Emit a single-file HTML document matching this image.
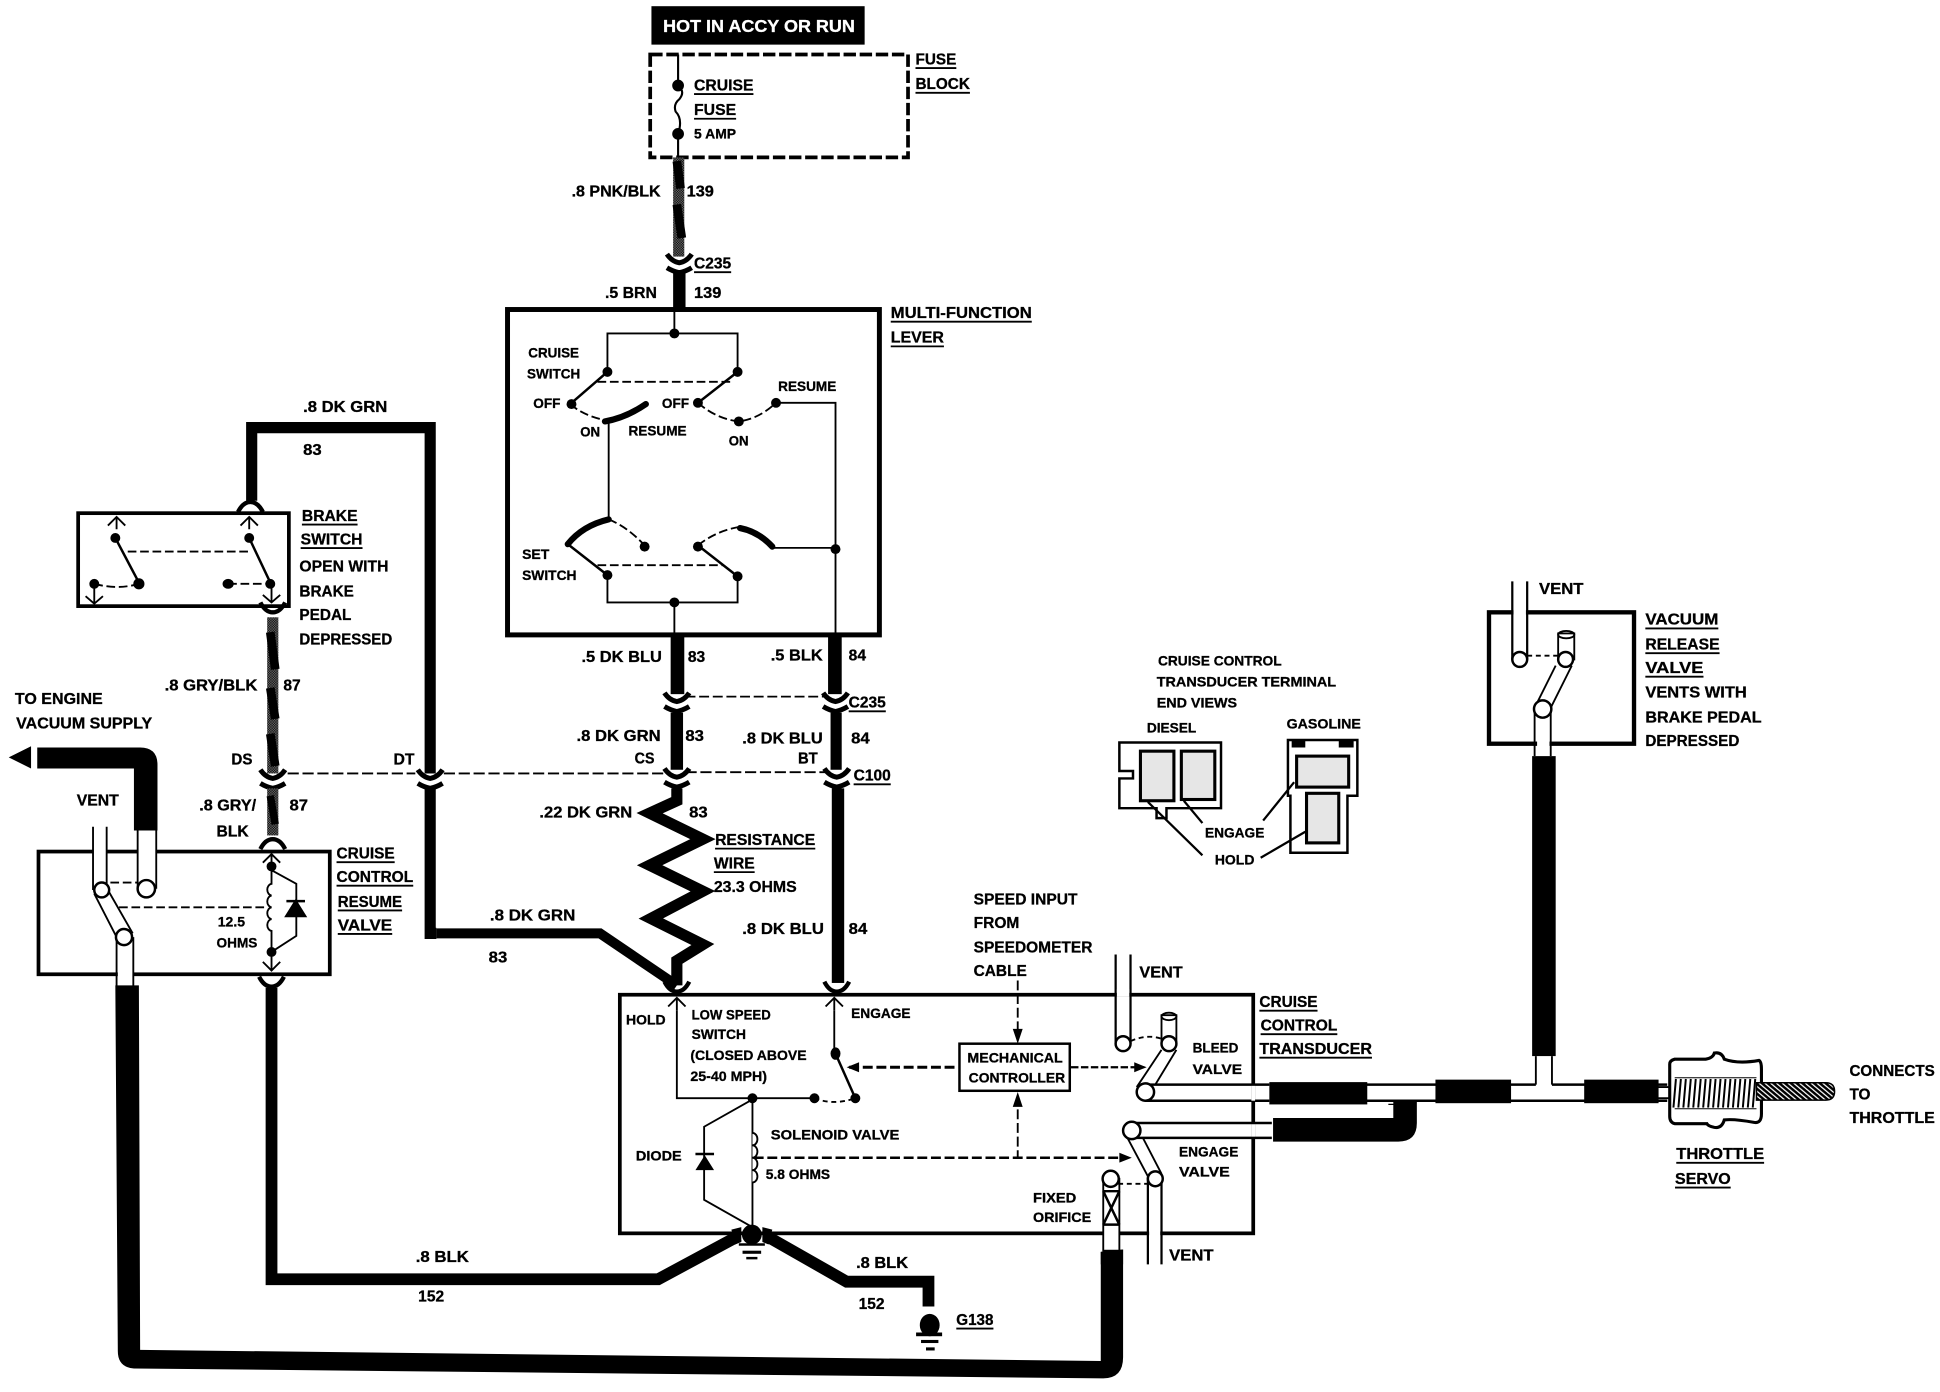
<!DOCTYPE html>
<html><head><meta charset="utf-8"><title>Cruise control wiring diagram</title>
<style>
html,body{margin:0;padding:0;background:#fff}
svg{display:block}
text{font-family:"Liberation Sans",sans-serif;font-weight:bold;font-size:13px;fill:#000;stroke:#000;stroke-width:.25px}
.s{font-size:11.5px}
</style></head><body>
<svg xmlns="http://www.w3.org/2000/svg" width="1940" height="1392" viewBox="0 0 1565 1123" fill="none" stroke="#000" stroke-width="1.5">
<defs>
<pattern id="d" width="2" height="2" patternUnits="userSpaceOnUse"><rect width="2" height="2" fill="#777" stroke="none"/><rect width="1" height="1" fill="#000" stroke="none"/><rect x="1" y="1" width="1" height="1" fill="#000" stroke="none"/></pattern>
<pattern id="h" width="3" height="3" patternUnits="userSpaceOnUse" patternTransform="rotate(40)"><rect width="3" height="3" fill="#fff" stroke="none"/><rect width="3" height="2" fill="#000" stroke="none"/></pattern>
<g id="c"><path stroke-width="4" d="M-10,-7Q-6,-1 0,0Q6,-1 10,-7"/><path stroke-width="4" d="M-10,4Q-5,7 0,8Q5,7 10,4"/></g>
<g id="cu"><path stroke-width="3.500" d="M-10,5Q-6,-3 0,-3Q6,-3 10,5"/></g>
<g id="cd"><path stroke-width="3.500" d="M-10,-5Q-6,3 0,3Q6,3 10,-5"/></g>
<path id="up" d="M-7,7L0,0L7,7M0,0V10"/>
</defs>
<rect width="1565" height="1123" fill="#fff" stroke="none"/>

<!-- top -->
<rect x="525.500" y="5" width="172" height="31" fill="#000" stroke="none"/>
<rect x="524.500" y="44" width="208" height="83" stroke-width="3" stroke-dasharray="10 3"/>
<path d="M547,44V69M547,108V127M547,69q6,5 1,11q-5,4 -3,10q6,6 2,18" stroke-width="1.700"/>
<circle cx="547" cy="69" r="4" fill="#000"/><circle cx="547" cy="108" r="4" fill="#000"/>

<!-- wire 139 -->
<rect x="543" y="127" width="9" height="80" fill="url(#d)" stroke="none"/>
<path d="M546,130L549,152M546,165L550,192" stroke-width="7"/>
<use href="#c" x="548" y="212"/>
<rect x="543" y="219" width="10" height="31" fill="#000" stroke="none"/>

<!-- multi function -->
<rect x="409.400" y="249.700" width="300" height="262.500" stroke-width="4"/>
<path d="M544,250V269M490,300V269H595V300"/>
<path d="M490,300L460,326M595,300L563,325" stroke-width="2"/>
<path d="M482,308H589M460,326Q470,335 488,339M563,325Q578,338 596,340Q612,338 626,325" stroke-dasharray="7 3"/>
<path d="M488,340Q505,337 521,326" stroke-width="5" stroke-linecap="round"/>
<path d="M491,341V419M626,325H674V512"/>
<path d="M458,439Q470,424 491,419M597,426Q612,429 623,441" stroke-width="5" stroke-linecap="round"/>
<path d="M491,419Q506,425 520,440M563,440Q578,428 597,425M482,456H583" stroke-dasharray="7 3"/>
<path d="M458,439L490,464M563,440L595,465" stroke-width="2"/>
<path d="M623,442H674M490,464V486H595V465M544,486V512"/>
<g fill="#000" stroke="none">
<circle cx="544" cy="269" r="4"/><circle cx="490" cy="300" r="4"/><circle cx="595" cy="300" r="4"/><circle cx="461" cy="326" r="4"/><circle cx="563" cy="325" r="4"/><circle cx="596" cy="340" r="4"/><circle cx="626" cy="325" r="4"/><circle cx="520" cy="441" r="4"/><circle cx="563" cy="441" r="4"/><circle cx="490" cy="464" r="4"/><circle cx="595" cy="465" r="4"/><circle cx="544" cy="486" r="4"/><circle cx="674" cy="443" r="4"/>
</g>

<!-- wires 83 / 84 -->
<g fill="#000" stroke="none">
<rect x="541" y="512" width="11" height="48"/>
<rect x="668" y="512" width="11" height="48"/>
<rect x="541" y="575" width="10" height="46"/>
<rect x="670" y="575" width="9" height="46"/>
<rect x="671" y="636" width="10" height="157"/>
</g>
<use href="#c" x="546" y="566"/><use href="#c" x="674" y="566"/>
<use href="#c" x="546" y="627"/><use href="#c" x="675" y="627"/>
<path d="M553,562H668" stroke-dasharray="8 3"/>
<path d="M232,624H335M358,624H540M553,623H668" stroke-dasharray="9 3"/>
<path d="M546,636V646L524,656L567,677L524,698L567,719L525,741L567,762L546,775V795" stroke-width="9" stroke-miterlimit="3"/>
<path d="M352,753H484L546,795" stroke-width="8"/>
<use href="#cd" x="546" y="797"/><use href="#cd" x="675" y="797"/>

<!-- brake wire -->
<path d="M347,624V345H203V404" stroke-width="9"/>
<path d="M347,636V753H352" stroke-width="9"/>
<use href="#c" x="347" y="628"/>
<use href="#cu" x="202" y="408"/>
<rect x="63" y="414" width="170" height="75" stroke-width="3"/>
<use href="#up" x="94" y="417"/><use href="#up" x="201" y="417"/>
<path d="M93,434L112,470M201,434L218,470" stroke-width="2"/>
<path d="M103,445H201" stroke-dasharray="7 3"/>
<path d="M76,471Q95,476 112,471M184,471H218" stroke-dasharray="7 3"/>
<path d="M76,471V487M69,481L76,487L83,481M219,471V486M212,480L219,486L226,480"/>
<g fill="#000" stroke="none"><circle cx="93" cy="434" r="4"/><circle cx="201" cy="434" r="4"/><circle cx="112" cy="471" r="4.500"/><circle cx="76" cy="471" r="4"/><ellipse cx="184" cy="471" rx="4.500" ry="4"/><circle cx="218" cy="471" r="4"/></g>

<!-- wire 87 -->
<use href="#cd" x="220" y="491"/>
<rect x="215.500" y="498" width="9" height="126" fill="url(#d)" stroke="none"/>
<path d="M218,510L222,540M218,555L222,580M218,592L222,618" stroke-width="7"/>
<use href="#c" x="220" y="628"/>
<rect x="215.500" y="636" width="9" height="38" fill="url(#d)" stroke="none"/>
<path d="M218,642L222,665" stroke-width="6"/>
<use href="#cu" x="220" y="680"/>

<!-- resume valve -->
<rect x="31" y="687" width="235" height="99" stroke-width="3"/>
<rect x="75" y="680" width="11" height="14" fill="#fff" stroke="none"/>
<rect x="111" y="680" width="15" height="14" fill="#fff" stroke="none"/>
<path d="M75,667V718M86,667V718M111,670V717M126,670V717"/>
<path d="M76,721L94,756M87,718L107,753"/>
<rect x="95" y="780" width="12" height="10" fill="#fff" stroke="none"/>
<path d="M94,756V796M107.500,756V796"/>
<circle cx="82" cy="718" r="6" fill="#fff" stroke-width="2"/><circle cx="118" cy="717" r="7" fill="#fff" stroke-width="2"/><circle cx="100" cy="756" r="6.500" fill="#fff" stroke-width="2"/>
<path d="M89,712H111M96,732H214" stroke-dasharray="7 3"/>
<use href="#up" x="219" y="689"/>
<path d="M219,699V713a4,4.800 0 0 0 0,9.500a4,4.800 0 0 0 0,9.500a4,4.800 0 0 0 0,9.500a4,4.800 0 0 0 0,9.500V768M219,702L239,713V727M239,739V755L219,768"/>
<path d="M231,739H246L238.500,727ZM231,727H246" fill="#000" stroke-width="2"/>
<path d="M212,776L219,783L226,776M219,768V783"/>
<g fill="#000" stroke="none"><circle cx="219" cy="699" r="4"/><circle cx="219" cy="768" r="4"/></g>
<use href="#cd" x="219" y="793"/>
<path d="M219,797V1032H531L596,997" stroke-width="9.500"/>
<path d="M618,997L683,1034H749V1054" stroke-width="9.500"/>

<!-- vacuum hoses -->
<path fill="#000" stroke="none" d="M7,611L25,602V620ZM30,603H113Q127,603 127,617V670H108V620H30Z"/>
<path fill="#000" stroke="none" d="M93,795H112L113,1089L888,1098V1010L906,1008V1095Q906,1112 890,1112L108,1104Q95,1103 95,1090Z"/>

<!-- transducer -->
<rect x="500" y="802.500" width="511" height="192.500" stroke-width="3"/>
<use href="#up" x="546" y="805"/><use href="#up" x="673" y="805"/>
<path d="M546,815V886H657M673,815V850M607,886V990M607,887L568,909V968L607,990"/>
<path d="M674,850L690,886" stroke-width="2"/>
<path d="M657,886Q672,892 690,886" stroke-dasharray="4 3"/>
<g fill="#000" stroke="none"><circle cx="607" cy="886" r="4"/><circle cx="657" cy="886" r="4"/><circle cx="690" cy="886" r="4"/><ellipse cx="674" cy="850" rx="4" ry="5"/>
<path d="M561,944H576L568.500,932Z"/></g>
<path d="M561,931H576" stroke-width="2"/>
<path d="M607,914a4,5 0 0 1 0,10a4,5 0 0 1 0,10a4,5 0 0 1 0,10a4,5 0 0 1 0,10" fill="#fff"/>
<rect x="774" y="842" width="89" height="38" stroke-width="2"/>
<path d="M685,861H773" stroke-width="2.500" stroke-dasharray="8 3"/>
<path d="M864,861H920" stroke-width="1.800" stroke-dasharray="6 2"/>
<path d="M821,791V838M821,884V934" stroke-dasharray="8 3"/>
<path d="M608,934H908" stroke-width="2" stroke-dasharray="8 3"/>
<g fill="#000" stroke="none"><path d="M683,861L693,857V865ZM925,861L915,857V865ZM913,934L903,930V938ZM821,842L817,830H825ZM821,881L817,893H825Z"/></g>
<!-- bleed valve -->
<path d="M900,770V842M912,770V842" stroke-width="1.800"/><rect x="901" y="798" width="10" height="6" fill="#fff" stroke="none"/>
<rect x="937" y="819" width="12" height="23" fill="#fff"/><ellipse cx="943" cy="820" rx="6" ry="3"/>
<path d="M937,847L917,877M949,847L932,875"/>
<circle cx="906" cy="842" r="6" fill="#fff" stroke-width="2"/><circle cx="943" cy="842" r="6" fill="#fff" stroke-width="2"/>
<path d="M912,840Q925,834 937,838" stroke-dasharray="4 3"/>
<path d="M924,875H1024M924,888H1024" stroke-width="2"/>
<circle cx="924" cy="881" r="7" fill="#fff" stroke-width="2"/>
<path d="M913,906H1026M913,918H1026" stroke-width="2"/>
<rect x="1009.500" y="876" width="3" height="12" fill="#fff" stroke="none"/><rect x="1009.500" y="907" width="3" height="10" fill="#fff" stroke="none"/>
<!-- engage valve -->
<path d="M909,917L926,949M922,918L937,947"/>
<circle cx="913" cy="912" r="7" fill="#fff" stroke-width="2"/>
<rect x="927" y="992" width="9" height="5" fill="#fff" stroke="none"/>
<path d="M926,950V1020M937,950V1020" stroke-width="1.800"/>
<circle cx="932" cy="951" r="6" fill="#fff" stroke-width="2"/>
<rect x="890" y="951" width="13" height="58" fill="#fff"/>
<path d="M890,961L903,988M903,961L890,988M890,961H903M890,988H903" stroke-width="2"/>
<circle cx="896" cy="951" r="6.500" fill="#fff" stroke-width="2"/>
<path d="M902,955H926" stroke-dasharray="4 3"/>
<path fill="#000" stroke="none" d="M888,1010L906,1008V1020H888Z"/>

<!-- grounds -->
<g fill="#000" stroke="none">
<ellipse cx="606.500" cy="996" rx="8" ry="8"/>
<rect x="596" y="1003" width="21" height="2"/><rect x="599" y="1009" width="15" height="2.500"/><rect x="602" y="1014" width="9" height="2"/>
<path d="M590,992L598,990V1002L593,1004ZM623,992L615,990V1002L620,1004Z"/>
<ellipse cx="750" cy="1069" rx="8" ry="9"/>
<rect x="739" y="1075" width="21" height="3"/><rect x="743" y="1081" width="14" height="2.500"/><rect x="747" y="1087" width="7" height="2.500"/>
</g>

<!-- right side -->
<rect x="1201.200" y="494" width="117" height="106" stroke-width="3.500"/>
<path d="M1220,469V532M1232,469V532" stroke-width="1.800"/><rect x="1221" y="491" width="10" height="5" fill="#fff" stroke="none"/>
<rect x="1257" y="511" width="13" height="21" fill="#fff"/><ellipse cx="1263.500" cy="512" rx="6.500" ry="3"/>
<path d="M1255,537L1238,571M1268,537L1251,571"/>
<circle cx="1226" cy="532" r="6" fill="#fff" stroke-width="2"/><circle cx="1263" cy="532" r="6" fill="#fff" stroke-width="2"/>
<path d="M1232,529H1257" stroke-dasharray="4 3"/>
<path d="M1238,572V610M1251,572V610"/>
<rect x="1240" y="597" width="10" height="5" fill="#fff" stroke="none"/>
<circle cx="1244.500" cy="572" r="7" fill="#fff" stroke-width="2"/>
<rect x="1236" y="610" width="19" height="242" fill="#000" stroke="none"/>
<path d="M1239,852V875M1252,852V875"/>
<path d="M1102,875H1239M1252,875H1345M1102,888H1345" stroke-width="2"/>
<path d="M1130,888V891H1120" stroke-width="1"/>
<g fill="#000" stroke="none">
<rect x="1024" y="873" width="79" height="18"/>
<rect x="1158" y="871" width="61" height="19"/>
<rect x="1278" y="871" width="60" height="19"/>
<path d="M1027,902H1124V889H1143V906Q1143,921 1128,921H1027Z"/>
</g>
<!-- servo -->
<path d="M1336,877H1349M1336,886H1349" stroke-width="1.500"/>
<g transform="translate(-3,-1.500)">
<path d="M1354,856H1379Q1385,855 1386,851Q1392,850 1394,856Q1405,860 1422,857Q1424,858 1424,864V900Q1424,908 1418,907Q1402,904 1394,905Q1392,912 1386,911Q1381,910 1380,908H1354Q1350,907 1350,902V860Q1350,857 1354,856Z" stroke-width="2.500" fill="#fff"/>
<path d="M1355,872L1353,895M1359,872L1357,895M1363,872L1361,895M1367,872L1365,895M1371,872L1369,895M1375,872L1373,895M1379,872L1377,895M1383,872L1381,895M1387,872L1385,895M1391,872L1389,895M1395,872L1393,895M1399,872L1397,895M1403,872L1401,895M1407,872L1405,895M1411,872L1409,895M1415,872L1413,895M1419,872L1417,895" stroke-width="1.600"/>
<path d="M1354,871H1420M1354,896H1420" stroke-width=".8"/>
<path d="M1420,875H1476Q1483,875 1483,882Q1483,889 1476,889H1420Z" fill="url(#h)" stroke-width="1.200"/>
</g>

<!-- terminals -->
<path d="M903,599H985V652H941V660H933V652H903V628H914V622H903Z" stroke-width="2"/>
<rect x="920" y="606" width="27" height="40" stroke-width="2.500" fill="#e6e6e6"/><rect x="953" y="606" width="27" height="39" stroke-width="2.500" fill="#e6e6e6"/>
<path d="M1039,597H1095V642H1087V688H1041V642H1039Z" stroke-width="2"/>
<rect x="1046" y="610" width="42" height="25" stroke-width="2.500" fill="#e6e6e6"/><rect x="1054" y="640" width="26" height="40" stroke-width="2.500" fill="#e6e6e6"/>
<path d="M1042,597H1053V603H1042ZM1080,597H1092V603H1080Z" fill="#000" stroke="none"/>
<path d="M970,690L926,647M970,664L955,646M1019,662L1044,631M1017,692L1053,671" stroke-width="1.800"/>

<!-- labels -->
<g transform="scale(.998)">
<text x="536" y="26" textLength="155" lengthAdjust="spacingAndGlyphs" style="fill:#fff;stroke:#fff;font-size:14px">HOT IN ACCY OR RUN</text>
<text x="561" y="73" textLength="48" lengthAdjust="spacingAndGlyphs">CRUISE</text>
<text x="561" y="93" textLength="34" lengthAdjust="spacingAndGlyphs">FUSE</text>
<text x="561" y="112" textLength="34" lengthAdjust="spacingAndGlyphs" class="s">5 AMP</text>
<text x="740" y="52" textLength="33" lengthAdjust="spacingAndGlyphs">FUSE</text>
<text x="740" y="72" textLength="44" lengthAdjust="spacingAndGlyphs">BLOCK</text>
<text x="462" y="159" textLength="72" lengthAdjust="spacingAndGlyphs">.8 PNK/BLK</text>
<text x="555" y="159" textLength="22" lengthAdjust="spacingAndGlyphs">139</text>
<text x="561" y="217" textLength="30" lengthAdjust="spacingAndGlyphs">C235</text>
<text x="561" y="241" textLength="22" lengthAdjust="spacingAndGlyphs">139</text>
<text x="489" y="241" textLength="42" lengthAdjust="spacingAndGlyphs">.5 BRN</text>
<text x="720" y="257" textLength="114" lengthAdjust="spacingAndGlyphs">MULTI-FUNCTION</text>
<text x="720" y="277" textLength="43" lengthAdjust="spacingAndGlyphs">LEVER</text>
<text x="427" y="289" textLength="41" lengthAdjust="spacingAndGlyphs" class="s">CRUISE</text>
<text x="426" y="306" textLength="43" lengthAdjust="spacingAndGlyphs" class="s">SWITCH</text>
<text x="431" y="330" textLength="22" lengthAdjust="spacingAndGlyphs" class="s">OFF</text>
<text x="469" y="353" textLength="16" lengthAdjust="spacingAndGlyphs" class="s">ON</text>
<text x="508" y="352" textLength="47" lengthAdjust="spacingAndGlyphs" class="s">RESUME</text>
<text x="535" y="330" textLength="22" lengthAdjust="spacingAndGlyphs" class="s">OFF</text>
<text x="589" y="360" textLength="16" lengthAdjust="spacingAndGlyphs" class="s">ON</text>
<text x="629" y="316" textLength="47" lengthAdjust="spacingAndGlyphs" class="s">RESUME</text>
<text x="422" y="452" textLength="22" lengthAdjust="spacingAndGlyphs" class="s">SET</text>
<text x="422" y="469" textLength="44" lengthAdjust="spacingAndGlyphs" class="s">SWITCH</text>
<text x="470" y="535" textLength="65" lengthAdjust="spacingAndGlyphs">.5 DK BLU</text>
<text x="556" y="535" textLength="14" lengthAdjust="spacingAndGlyphs">83</text>
<text x="623" y="534" textLength="42" lengthAdjust="spacingAndGlyphs">.5 BLK</text>
<text x="686" y="534" textLength="14" lengthAdjust="spacingAndGlyphs">84</text>
<text x="686" y="572" textLength="30" lengthAdjust="spacingAndGlyphs">C235</text>
<text x="466" y="599" textLength="68" lengthAdjust="spacingAndGlyphs">.8 DK GRN</text>
<text x="554" y="599" textLength="15" lengthAdjust="spacingAndGlyphs">83</text>
<text x="600" y="601" textLength="65" lengthAdjust="spacingAndGlyphs">.8 DK BLU</text>
<text x="688" y="601" textLength="15" lengthAdjust="spacingAndGlyphs">84</text>
<text x="513" y="617" textLength="16" lengthAdjust="spacingAndGlyphs">CS</text>
<text x="645" y="617" textLength="16" lengthAdjust="spacingAndGlyphs">BT</text>
<text x="690" y="631" textLength="30" lengthAdjust="spacingAndGlyphs">C100</text>
<text x="436" y="661" textLength="75" lengthAdjust="spacingAndGlyphs">.22 DK GRN</text>
<text x="557" y="661" textLength="15" lengthAdjust="spacingAndGlyphs">83</text>
<text x="578" y="683" textLength="81" lengthAdjust="spacingAndGlyphs">RESISTANCE</text>
<text x="577" y="702" textLength="33" lengthAdjust="spacingAndGlyphs">WIRE</text>
<text x="577" y="721" textLength="67" lengthAdjust="spacingAndGlyphs">23.3 OHMS</text>
<text x="396" y="744" textLength="69" lengthAdjust="spacingAndGlyphs">.8 DK GRN</text>
<text x="395" y="778" textLength="15" lengthAdjust="spacingAndGlyphs">83</text>
<text x="600" y="755" textLength="66" lengthAdjust="spacingAndGlyphs">.8 DK BLU</text>
<text x="686" y="755" textLength="15" lengthAdjust="spacingAndGlyphs">84</text>
<text x="245" y="333" textLength="68" lengthAdjust="spacingAndGlyphs">.8 DK GRN</text>
<text x="245" y="368" textLength="15" lengthAdjust="spacingAndGlyphs">83</text>
<text x="244" y="421" textLength="45" lengthAdjust="spacingAndGlyphs">BRAKE</text>
<text x="243" y="440" textLength="50" lengthAdjust="spacingAndGlyphs">SWITCH</text>
<text x="242" y="462" textLength="72" lengthAdjust="spacingAndGlyphs">OPEN WITH</text>
<text x="242" y="482" textLength="44" lengthAdjust="spacingAndGlyphs">BRAKE</text>
<text x="242" y="501" textLength="42" lengthAdjust="spacingAndGlyphs">PEDAL</text>
<text x="242" y="521" textLength="75" lengthAdjust="spacingAndGlyphs">DEPRESSED</text>
<text x="12" y="569" textLength="71" lengthAdjust="spacingAndGlyphs">TO ENGINE</text>
<text x="13" y="589" textLength="110" lengthAdjust="spacingAndGlyphs">VACUUM SUPPLY</text>
<text x="133" y="558" textLength="75" lengthAdjust="spacingAndGlyphs">.8 GRY/BLK</text>
<text x="229" y="558" textLength="14" lengthAdjust="spacingAndGlyphs">87</text>
<text x="187" y="618" textLength="17" lengthAdjust="spacingAndGlyphs">DS</text>
<text x="318" y="618" textLength="17" lengthAdjust="spacingAndGlyphs">DT</text>
<text x="62" y="651" textLength="34" lengthAdjust="spacingAndGlyphs">VENT</text>
<text x="161" y="655" textLength="46" lengthAdjust="spacingAndGlyphs">.8 GRY/</text>
<text x="175" y="676" textLength="26" lengthAdjust="spacingAndGlyphs">BLK</text>
<text x="234" y="655" textLength="15" lengthAdjust="spacingAndGlyphs">87</text>
<text x="176" y="749" textLength="22" lengthAdjust="spacingAndGlyphs" class="s">12.5</text>
<text x="175" y="766" textLength="33" lengthAdjust="spacingAndGlyphs" class="s">OHMS</text>
<text x="272" y="694" textLength="47" lengthAdjust="spacingAndGlyphs">CRUISE</text>
<text x="272" y="713" textLength="62" lengthAdjust="spacingAndGlyphs">CONTROL</text>
<text x="273" y="733" textLength="52" lengthAdjust="spacingAndGlyphs">RESUME</text>
<text x="273" y="752" textLength="44" lengthAdjust="spacingAndGlyphs">VALVE</text>
<text x="506" y="828" textLength="32" lengthAdjust="spacingAndGlyphs" class="s">HOLD</text>
<text x="559" y="824" textLength="64" lengthAdjust="spacingAndGlyphs" class="s">LOW SPEED</text>
<text x="559" y="840" textLength="44" lengthAdjust="spacingAndGlyphs" class="s">SWITCH</text>
<text x="558" y="857" textLength="94" lengthAdjust="spacingAndGlyphs" class="s">(CLOSED ABOVE</text>
<text x="558" y="874" textLength="62" lengthAdjust="spacingAndGlyphs" class="s">25-40 MPH)</text>
<text x="688" y="823" textLength="48" lengthAdjust="spacingAndGlyphs" class="s">ENGAGE</text>
<text x="787" y="731" textLength="84" lengthAdjust="spacingAndGlyphs">SPEED INPUT</text>
<text x="787" y="750" textLength="37" lengthAdjust="spacingAndGlyphs">FROM</text>
<text x="787" y="770" textLength="96" lengthAdjust="spacingAndGlyphs">SPEEDOMETER</text>
<text x="787" y="789" textLength="43" lengthAdjust="spacingAndGlyphs">CABLE</text>
<text x="921" y="790" textLength="35" lengthAdjust="spacingAndGlyphs">VENT</text>
<text x="1018" y="814" textLength="47" lengthAdjust="spacingAndGlyphs">CRUISE</text>
<text x="1019" y="833" textLength="62" lengthAdjust="spacingAndGlyphs">CONTROL</text>
<text x="1018" y="852" textLength="91" lengthAdjust="spacingAndGlyphs">TRANSDUCER</text>
<text x="782" y="859" textLength="77" lengthAdjust="spacingAndGlyphs" class="s">MECHANICAL</text>
<text x="783" y="875" textLength="78" lengthAdjust="spacingAndGlyphs" class="s">CONTROLLER</text>
<text x="964" y="851" textLength="37" lengthAdjust="spacingAndGlyphs" class="s">BLEED</text>
<text x="964" y="868" textLength="40" lengthAdjust="spacingAndGlyphs" class="s">VALVE</text>
<text x="623" y="921" textLength="104" lengthAdjust="spacingAndGlyphs" class="s">SOLENOID VALVE</text>
<text x="514" y="938" textLength="37" lengthAdjust="spacingAndGlyphs" class="s">DIODE</text>
<text x="619" y="953" textLength="52" lengthAdjust="spacingAndGlyphs" class="s">5.8 OHMS</text>
<text x="953" y="935" textLength="48" lengthAdjust="spacingAndGlyphs" class="s">ENGAGE</text>
<text x="953" y="951" textLength="41" lengthAdjust="spacingAndGlyphs" class="s">VALVE</text>
<text x="835" y="972" textLength="35" lengthAdjust="spacingAndGlyphs" class="s">FIXED</text>
<text x="835" y="988" textLength="47" lengthAdjust="spacingAndGlyphs" class="s">ORIFICE</text>
<text x="945" y="1019" textLength="36" lengthAdjust="spacingAndGlyphs">VENT</text>
<text x="336" y="1020" textLength="43" lengthAdjust="spacingAndGlyphs">.8 BLK</text>
<text x="338" y="1052" textLength="21" lengthAdjust="spacingAndGlyphs">152</text>
<text x="692" y="1025" textLength="42" lengthAdjust="spacingAndGlyphs">.8 BLK</text>
<text x="694" y="1058" textLength="21" lengthAdjust="spacingAndGlyphs">152</text>
<text x="773" y="1071" textLength="30" lengthAdjust="spacingAndGlyphs">G138</text>
<text x="1244" y="480" textLength="36" lengthAdjust="spacingAndGlyphs">VENT</text>
<text x="1330" y="505" textLength="59" lengthAdjust="spacingAndGlyphs">VACUUM</text>
<text x="1330" y="525" textLength="60" lengthAdjust="spacingAndGlyphs">RELEASE</text>
<text x="1330" y="544" textLength="47" lengthAdjust="spacingAndGlyphs">VALVE</text>
<text x="1330" y="564" textLength="82" lengthAdjust="spacingAndGlyphs">VENTS WITH</text>
<text x="1330" y="584" textLength="94" lengthAdjust="spacingAndGlyphs">BRAKE PEDAL</text>
<text x="1330" y="603" textLength="76" lengthAdjust="spacingAndGlyphs">DEPRESSED</text>
<text x="1495" y="870" textLength="69" lengthAdjust="spacingAndGlyphs">CONNECTS</text>
<text x="1495" y="889" textLength="17" lengthAdjust="spacingAndGlyphs">TO</text>
<text x="1495" y="908" textLength="69" lengthAdjust="spacingAndGlyphs">THROTTLE</text>
<text x="1355" y="937" textLength="71" lengthAdjust="spacingAndGlyphs">THROTTLE</text>
<text x="1354" y="957" textLength="45" lengthAdjust="spacingAndGlyphs">SERVO</text>
<text x="936" y="538" textLength="100" lengthAdjust="spacingAndGlyphs" class="s">CRUISE CONTROL</text>
<text x="935" y="555" textLength="145" lengthAdjust="spacingAndGlyphs" class="s">TRANSDUCER TERMINAL</text>
<text x="935" y="572" textLength="65" lengthAdjust="spacingAndGlyphs" class="s">END VIEWS</text>
<text x="927" y="592" textLength="40" lengthAdjust="spacingAndGlyphs" class="s">DIESEL</text>
<text x="1040" y="589" textLength="60" lengthAdjust="spacingAndGlyphs" class="s">GASOLINE</text>
<text x="974" y="677" textLength="48" lengthAdjust="spacingAndGlyphs" class="s">ENGAGE</text>
<text x="982" y="699" textLength="32" lengthAdjust="spacingAndGlyphs" class="s">HOLD</text>
<path stroke-width="1.500" d="M561,76H609M561,96H595M740,55H773M740,75H784M561,220H591M720,260H834M720,280H763M686,575H716M690,634H720M578,686H659M577,705H610M244,424H289M243,443H293M272,697H319M272,716H334M273,736H325M273,755H317M1018,817H1065M1019,836H1081M1018,855H1109M773,1074H803M1330,508H1389M1330,528H1390M1330,547H1377M1355,940H1426M1354,960H1399"/>
</g>
</svg>
</body></html>
